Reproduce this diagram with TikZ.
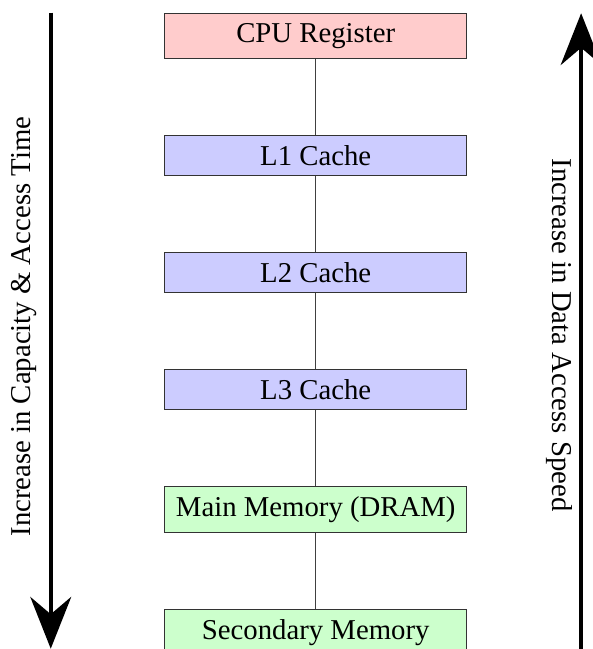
\documentclass[tikz,border=0pt]{standalone}
\usepackage{fontspec}
\setmainfont{Liberation Serif}
\usetikzlibrary{positioning,arrows.meta}
\begin{document}
\begin{tikzpicture}[
  level/.style={draw=black!80, line width=0.4pt, minimum width=105pt,
    inner sep=3.33pt, font=\fontsize{10pt}{12pt}\selectfont},
  regbox/.style={level, fill=red!20},
  cachebox/.style={level, fill=blue!20},
  membox/.style={level, fill=green!20},
  link/.style={draw=black!75, line width=0.4pt},
  bigarrow/.style={line width=1.5pt, -{Stealth[length=18pt, width=14.2pt, inset=6pt]}},
  sidelabel/.style={inner sep=0pt, font=\fontsize{10pt}{12pt}\selectfont},
  node distance=26.6pt
]
\useasboundingbox (0,0) rectangle (206.2pt,-225.7pt);

% memory hierarchy
\node[regbox, anchor=north] (cpu) at (109.8pt,-4.6pt) {CPU Register};
\node[cachebox, below=of cpu] (l1) {L1 Cache};
\node[cachebox, below=of l1] (l2) {L2 Cache};
\node[cachebox, below=of l2] (l3) {L3 Cache};
\node[membox, below=of l3] (dram) {Main Memory (DRAM)};
\node[membox, below=of dram] (sec) {Secondary Memory};

\draw[link] (cpu) -- (l1);
\draw[link] (l1) -- (l2);
\draw[link] (l2) -- (l3);
\draw[link] (l3) -- (dram);
\draw[link] (dram) -- (sec);

% side arrows
\coordinate (ltop) at (17.65pt,-4.4pt);
\coordinate (lbot) at (17.65pt,-225.6pt);
\coordinate (rbot) at (202.1pt,-225.7pt);
\coordinate (rtop) at (202.1pt,-4.6pt);
\draw[bigarrow] (ltop) -- (lbot);
\draw[bigarrow] (rbot) -- (rtop);

\node[sidelabel, rotate=90] (cap) at (8.35pt,-113.6pt) {Increase in Capacity \& Access Time};
\node[sidelabel, rotate=-90] (spd) at (194.7pt,-116.5pt) {Increase in Data Access Speed};
\end{tikzpicture}
\end{document}
